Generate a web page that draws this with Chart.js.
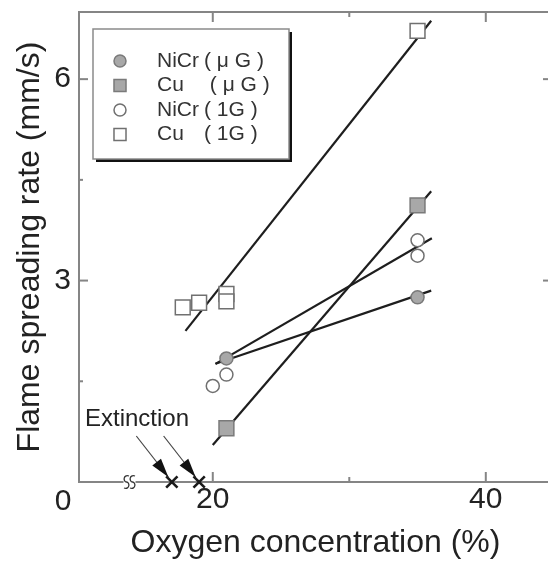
<!DOCTYPE html>
<html>
<head>
<meta charset="utf-8">
<script src="https://cdn.jsdelivr.net/npm/chart.js@4.4.0/dist/chart.umd.min.js"></script>
<style>
  html, body { margin: 0; padding: 0; background: #fff; overflow: hidden; }
  #wrap { position: relative; width: 570px; height: 562px; }
</style>
</head>
<body>
<div id="wrap"><canvas id="chart"></canvas></div>
<script>
// measured points (oxygen %, mm/s)
const niCrMuX = [21, 35];
const niCrMuY = [1.84, 2.75];
const cuMuX = [21, 35];
const cuMuY = [0.80, 4.12];
const niCr1gX = [20, 21, 35, 35];
const niCr1gY = [1.43, 1.60, 3.60, 3.37];
const cu1gX = [17.8, 19, 21, 21, 35];
const cu1gY = [2.60, 2.67, 2.80, 2.69, 6.72];

// fitted lines, end points
const niCrMuFitX = [20.2, 36.0];
const niCrMuFitY = [1.76, 2.85];
const cuMuFitX = [20.0, 36.0];
const cuMuFitY = [0.55, 4.33];
const niCr1gFitX = [20.2, 36.05];
const niCr1gFitY = [1.76, 3.63];
const cu1gFitX = [18.0, 36.0];
const cu1gFitY = [2.25, 6.87];

// extinction limits
const extX = [17, 19];
const extY = [0, 0];

const legendNames = ['NiCr', 'Cu', 'NiCr', 'Cu'];
const legendCond = ['( \u03BC G )', ' ( \u03BC G )', '( 1G )', '( 1G )'];

const xTickValues = [20, 30, 40];
const xTickLabels = ['20', '', '40'];
const yTickValues = [1.5, 3, 4.5, 6];
const yTickLabels = ['', '3', '', '6'];

const FONT = "'Liberation Sans', Arial, Helvetica, sans-serif";
const TEXT = '#222';
const AXIS = '#858585';
const GRAY_FILL = '#a8a8a8';
const GRAY_EDGE = '#7a7a7a';
const OPEN_EDGE = '#707070';
const LINE = '#1e1e1e';

Chart.defaults.font.family = FONT;

const pts = (xs, ys) => xs.map((x, i) => ({ x: x, y: ys[i] }));

function fitLine(xs, ys) {
  return {
    data: pts(xs, ys),
    showLine: true,
    pointRadius: 0,
    borderColor: LINE,
    borderWidth: 2.2,
    order: 2,
  };
}

// decorations: frame, inner ticks, corner zero, axis break, extinction note, legend
const frame = {
  id: 'frame',
  afterDraw(chart) {
    const { ctx, chartArea: a, scales: { x, y } } = chart;
    const seg = (x1, y1, x2, y2) => {
      ctx.beginPath(); ctx.moveTo(x1, y1); ctx.lineTo(x2, y2); ctx.stroke();
    };
    ctx.save();
    ctx.strokeStyle = AXIS;
    ctx.lineWidth = 2;
    seg(a.left, a.top, a.right, a.top);
    seg(a.right, a.top, a.right, a.bottom);

    xTickValues.forEach((v, i) => {
      const px = x.getPixelForValue(v);
      const len = xTickLabels[i] ? 10 : 5;
      seg(px, a.bottom, px, a.bottom - len);
      seg(px, a.top, px, a.top + len);
    });
    yTickValues.forEach((v, i) => {
      const py = y.getPixelForValue(v);
      const len = yTickLabels[i] ? 9 : 4;
      seg(a.left, py, a.left + len, py);
      seg(a.right, py, a.right - len, py);
    });

    // shared zero at the corner
    ctx.fillStyle = TEXT;
    ctx.font = '30px ' + FONT;
    ctx.textAlign = 'center';
    ctx.textBaseline = 'middle';
    ctx.fillText('0', a.left - 16, a.bottom + 20);

    // axis break
    const bx = x.getPixelForValue(13.9);
    ctx.fillStyle = '#fff';
    ctx.fillRect(bx - 6, a.bottom - 2, 12, 4);
    ctx.strokeStyle = '#333';
    ctx.lineWidth = 1.3;
    [bx - 3, bx + 3].forEach((sx) => {
      ctx.beginPath();
      ctx.moveTo(sx + 2.5, a.bottom - 6);
      ctx.bezierCurveTo(sx - 3.5, a.bottom - 8, sx - 3.5, a.bottom, sx, a.bottom);
      ctx.bezierCurveTo(sx + 3.5, a.bottom, sx + 3.5, a.bottom + 8, sx - 2.5, a.bottom + 6);
      ctx.stroke();
    });

    // extinction note
    ctx.fillStyle = TEXT;
    ctx.font = '24px ' + FONT;
    ctx.textAlign = 'left';
    ctx.fillText('Extinction', a.left + 6, a.bottom - 63);
    extX.forEach((v, i) => {
      const tx = x.getPixelForValue(v) - 3.5;
      const ty = y.getPixelForValue(extY[i]) - 5;
      const sx = tx - 32, sy = ty - 41;
      ctx.strokeStyle = '#444';
      ctx.lineWidth = 1.2;
      seg(sx, sy, tx, ty);
      const ang = Math.atan2(ty - sy, tx - sx);
      const L = 19, W = 5.5;
      const bxp = tx - L * Math.cos(ang), byp = ty - L * Math.sin(ang);
      ctx.fillStyle = '#111';
      ctx.beginPath();
      ctx.moveTo(tx, ty);
      ctx.lineTo(bxp + W * Math.sin(ang), byp - W * Math.cos(ang));
      ctx.lineTo(bxp - W * Math.sin(ang), byp + W * Math.cos(ang));
      ctx.closePath();
      ctx.fill();
    });

    // legend box with drop shadow
    const lx = a.left + 14, ly = a.top + 17, lw = 196, lh = 130;
    ctx.fillStyle = '#111';
    ctx.fillRect(lx + 3, ly + 3, lw, lh);
    ctx.fillStyle = '#fff';
    ctx.fillRect(lx, ly, lw, lh);
    ctx.strokeStyle = '#8a8a8a';
    ctx.lineWidth = 1.5;
    ctx.strokeRect(lx, ly, lw, lh);

    ctx.font = '21px ' + FONT;
    ctx.textBaseline = 'middle';
    for (let i = 0; i < 4; i++) {
      const ds = chart.data.datasets[i];
      const ry = ly + 32 + i * 24.5;
      ctx.fillStyle = ds.backgroundColor;
      ctx.strokeStyle = ds.borderColor;
      ctx.lineWidth = 1.5;
      Chart.helpers.drawPoint(ctx, {
        pointStyle: ds.pointStyle,
        radius: ds.pointStyle === 'rect' ? 8.5 : 6,
        borderWidth: 1.5,
        rotation: 0,
      }, lx + 27, ry);
      ctx.fillStyle = '#333';
      ctx.textAlign = 'left';
      ctx.fillText(legendNames[i], lx + 64, ry);
      ctx.fillText(legendCond[i], lx + 111, ry);
    }
    ctx.restore();
  },
};

new Chart(document.getElementById('chart'), {
  type: 'scatter',
  data: {
    datasets: [
      {
        label: 'NiCr (\u03BCG)', data: pts(niCrMuX, niCrMuY),
        pointStyle: 'circle', pointRadius: 6.5,
        backgroundColor: GRAY_FILL, borderColor: GRAY_EDGE, borderWidth: 1.5, order: 1,
      },
      {
        label: 'Cu (\u03BCG)', data: pts(cuMuX, cuMuY),
        pointStyle: 'rect', pointRadius: 10.5,
        backgroundColor: GRAY_FILL, borderColor: GRAY_EDGE, borderWidth: 1.5, order: 1,
      },
      {
        label: 'NiCr (1G)', data: pts(niCr1gX, niCr1gY),
        pointStyle: 'circle', pointRadius: 6.5,
        backgroundColor: '#fff', borderColor: OPEN_EDGE, borderWidth: 1.5, order: 1,
      },
      {
        label: 'Cu (1G)', data: pts(cu1gX, cu1gY),
        pointStyle: 'rect', pointRadius: 10.5,
        backgroundColor: '#fff', borderColor: OPEN_EDGE, borderWidth: 1.5, order: 1,
      },
      {
        label: 'Extinction', data: pts(extX, extY),
        pointStyle: 'crossRot', pointRadius: 8,
        borderColor: '#1a1a1a', borderWidth: 2.6, clip: false, order: 0,
      },
      fitLine(niCrMuFitX, niCrMuFitY),
      fitLine(cuMuFitX, cuMuFitY),
      fitLine(niCr1gFitX, niCr1gFitY),
      fitLine(cu1gFitX, cu1gFitY),
    ],
  },
  options: {
    responsive: true,
    maintainAspectRatio: false,
    animation: false,
    layout: { padding: { left: 0, top: 10, right: 18, bottom: 0 } },
    plugins: { legend: { display: false }, tooltip: { enabled: false } },
    scales: {
      x: {
        type: 'linear', min: 10.2, max: 44.85,
        afterFit: (s) => { s.height = 80; s.paddingLeft = 0; s.paddingRight = 0; },
        afterBuildTicks: (s) => { s.ticks = xTickValues.map((v) => ({ value: v })); },
        ticks: {
          callback: (v) => xTickLabels[xTickValues.indexOf(v)],
          autoSkip: false, maxRotation: 0, padding: 3,
          color: TEXT, font: { size: 30, lineHeight: 1 },
        },
        grid: { display: false, drawTicks: false },
        border: { display: true, color: AXIS, width: 2 },
        title: {
          display: true, text: 'Oxygen concentration (%)',
          color: TEXT, font: { size: 32 }, padding: { top: 0, bottom: 0 },
        },
      },
      y: {
        type: 'linear', min: 0, max: 7,
        afterFit: (s) => { s.width = 79; s.paddingTop = 0; s.paddingBottom = 0; },
        afterBuildTicks: (s) => { s.ticks = yTickValues.map((v) => ({ value: v })); },
        ticks: {
          callback: (v) => yTickLabels[yTickValues.indexOf(v)],
          autoSkip: false, padding: 8,
          color: TEXT, font: { size: 30, lineHeight: 1 },
        },
        grid: { display: false, drawTicks: false },
        border: { display: true, color: AXIS, width: 2 },
        title: {
          display: true, text: 'Flame spreading rate (mm/s)',
          color: TEXT, font: { size: 32 }, padding: { top: 11, bottom: 0 },
        },
      },
    },
  },
  plugins: [frame],
});
</script>
</body>
</html>
